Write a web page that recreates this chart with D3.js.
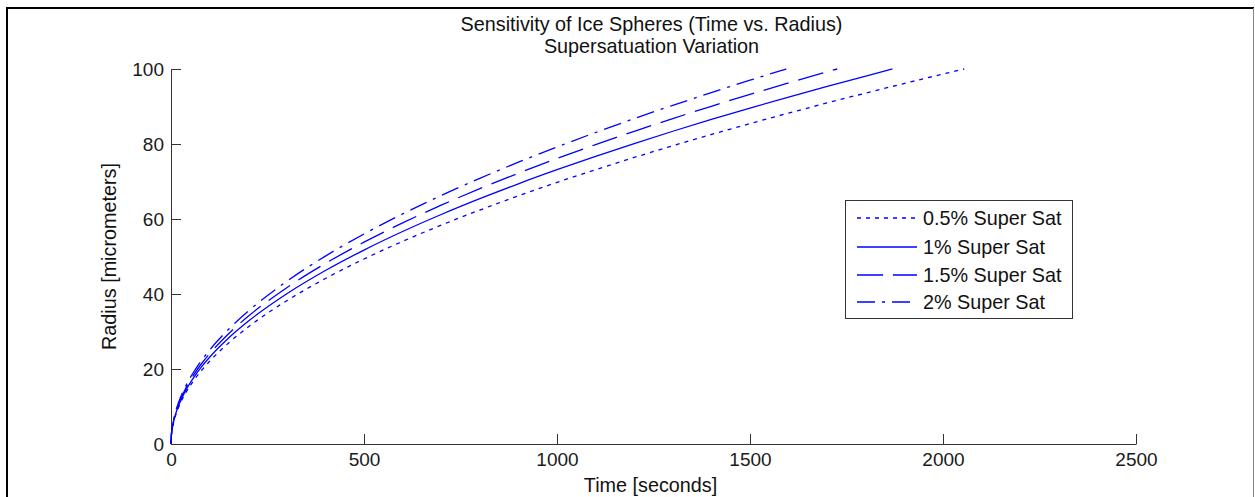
<!DOCTYPE html>
<html>
<head>
<meta charset="utf-8">
<script src="https://cdn.jsdelivr.net/npm/d3@7"></script>
<style>
    body { margin: 0; background: #fff; }
    svg { display: block; font-family: "Liberation Sans", Arial, sans-serif; }
    .axis path, .axis line { stroke: #333; stroke-width: 1px; }
    .axis text { fill: #1a1a1a; font-size: 19px; }
</style>
</head>
<body>
<div id="chart"></div>
<script>
// data
const seriesNames = ["0.5% Super Sat", "1% Super Sat", "1.5% Super Sat", "2% Super Sat"];
const timeGrid = [0, 1, 5, 10, 20, 40, 60, 80, 100, 150, 200, 300, 400, 500, 600, 700, 800, 900,
    1000, 1100, 1200, 1300, 1400, 1500, 1600, 1700, 1800, 1900, 2000];
// time where each curve reaches 100 micrometers (last radius value)
const endTimes = [2055, 1869, 1726, 1594];

const radius05 = [0, 2.21, 4.93, 6.98, 9.87, 13.95, 17.09, 19.73, 22.06, 27.02, 31.20, 38.21, 44.12, 49.33,
    54.03, 58.36, 62.39, 66.18, 69.76, 73.16, 76.41, 79.54, 82.54, 85.43, 88.24, 90.95, 93.59, 96.15, 98.65, 100];
const radius10 = [0, 2.31, 5.17, 7.31, 10.34, 14.63, 17.92, 20.69, 23.13, 28.33, 32.71, 40.06, 46.26, 51.72,
    56.66, 61.20, 65.42, 69.39, 73.14, 76.71, 80.12, 83.40, 86.54, 89.58, 92.52, 95.37, 98.13, 100];
const radius15 = [0, 2.41, 5.38, 7.61, 10.76, 15.22, 18.65, 21.53, 24.07, 29.48, 34.04, 41.69, 48.14, 53.82,
    58.96, 63.68, 68.08, 72.21, 76.12, 79.83, 83.38, 86.79, 90.06, 93.23, 96.28, 99.25, 100];
const radius20 = [0, 2.50, 5.60, 7.92, 11.20, 15.84, 19.40, 22.40, 25.05, 30.68, 35.42, 43.38, 50.10, 56.01,
    61.35, 66.27, 70.85, 75.14, 79.21, 83.07, 86.77, 90.31, 93.72, 97.01, 100];

const xTicks = [0, 500, 1000, 1500, 2000, 2500];
const yTicks = [0, 20, 40, 60, 80, 100];

const allRadii = [radius05, radius10, radius15, radius20];
const dashes = ["4,5", null, "26,10", "18,7,3,7"];
const labelSize = 19.8;

const W = 1255, H = 497;
const svg = d3.select("#chart").append("svg")
    .attr("width", W)
    .attr("height", H);

// frame of the screenshot
svg.append("line").attr("x1", 6).attr("x2", 1254).attr("y1", 8).attr("y2", 8)
    .attr("stroke", "#000").attr("stroke-width", 2);
svg.append("line").attr("x1", 7).attr("x2", 7).attr("y1", 7).attr("y2", H)
    .attr("stroke", "#000").attr("stroke-width", 2);
svg.append("line").attr("x1", 1253.5).attr("x2", 1253.5).attr("y1", 8).attr("y2", H)
    .attr("stroke", "#888").attr("stroke-width", 1);

// scales
const x = d3.scaleLinear().domain([0, 2500]).range([171, 1136]);
const y = d3.scaleLinear().domain([0, 100]).range([444, 69]);

// axes, ticks pointing inward like matlab
const xAxis = d3.axisBottom(x).tickValues(xTicks).tickFormat(d3.format("d"))
    .tickSizeInner(-10).tickSizeOuter(0).tickPadding(9);
const yAxis = d3.axisLeft(y).tickValues(yTicks).tickFormat(d3.format("d"))
    .tickSizeInner(-10).tickSizeOuter(0).tickPadding(7);

svg.append("g").attr("class", "axis")
    .attr("transform", `translate(0,${y(0)})`)
    .call(xAxis)
    .call(g => g.selectAll("text").attr("font-family", null).attr("font-size", null));
svg.append("g").attr("class", "axis")
    .attr("transform", `translate(${x(0)},0)`)
    .call(yAxis)
    .call(g => g.selectAll("text").attr("font-family", null).attr("font-size", null));

// curves
const line = d3.line()
    .x(d => x(d.t))
    .y(d => y(d.r))
    .curve(d3.curveMonotoneX);

allRadii.forEach((radii, s) => {
    const pts = radii.map((r, i) => ({ t: i < radii.length - 1 ? timeGrid[i] : endTimes[s], r: r }));
    svg.append("path")
        .datum(pts)
        .attr("fill", "none")
        .attr("stroke", "#0000ff")
        .attr("stroke-width", 1.3)
        .attr("stroke-dasharray", dashes[s])
        .attr("d", line);
});

// titles
const midX = (x(0) + x(2500)) / 2;
svg.append("text").attr("x", midX - 2).attr("y", 31).attr("text-anchor", "middle")
    .attr("font-size", labelSize).attr("fill", "#111").text("Sensitivity of Ice Spheres (Time vs. Radius)");
svg.append("text").attr("x", midX - 2).attr("y", 53).attr("text-anchor", "middle")
    .attr("font-size", labelSize).attr("fill", "#111").text("Supersatuation Variation");
svg.append("text").attr("x", midX - 3).attr("y", 492).attr("text-anchor", "middle")
    .attr("font-size", labelSize).attr("fill", "#111").text("Time [seconds]");
svg.append("text")
    .attr("transform", `translate(116,${(y(0) + y(100)) / 2}) rotate(-90)`)
    .attr("text-anchor", "middle")
    .attr("font-size", labelSize).attr("fill", "#111").text("Radius [micrometers]");

// legend
const legend = svg.append("g");
legend.append("rect")
    .attr("x", 845.5).attr("y", 200.5).attr("width", 227).attr("height", 118)
    .attr("fill", "#fff").attr("stroke", "#333").attr("stroke-width", 1);
const rowY = [218, 247, 275, 302];
seriesNames.forEach((name, i) => {
    legend.append("line")
        .attr("x1", 857).attr("x2", 917).attr("y1", rowY[i]).attr("y2", rowY[i])
        .attr("stroke", "#0000ff").attr("stroke-width", 1.3)
        .attr("stroke-dasharray", dashes[i]);
    legend.append("text")
        .attr("x", 923).attr("y", rowY[i]).attr("dy", "0.35em")
        .attr("font-size", labelSize).attr("fill", "#111").text(name);
});
</script>
</body>
</html>
